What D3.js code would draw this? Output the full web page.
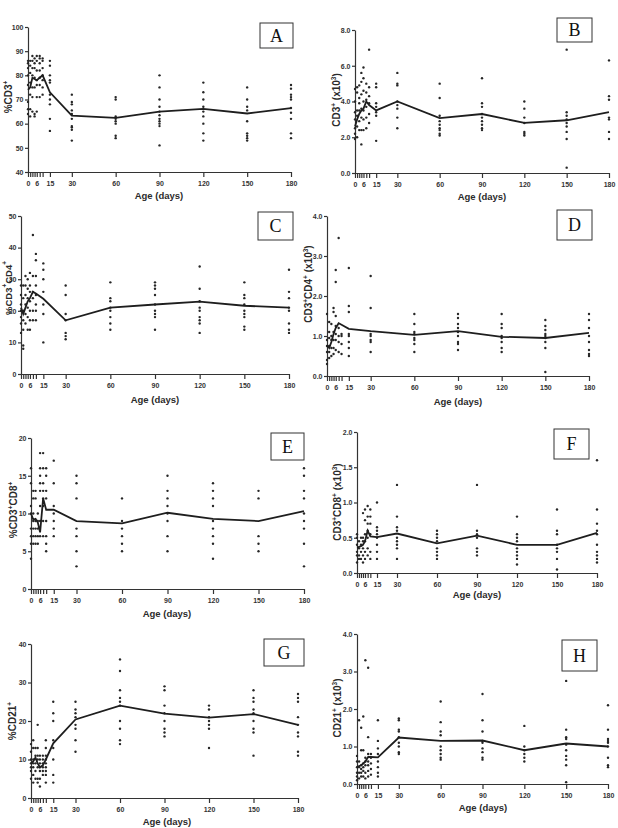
<!DOCTYPE html>
<html>
<head>
<meta charset="utf-8">
<title>Lymphocyte subsets by age</title>
<script src="https://d3js.org/d3.v7.min.js"></script>
<style>
  body { margin: 0; background: #fff; }
  svg text { font-family: "Liberation Sans", Arial, sans-serif; font-weight: bold; fill: #2b2b2b; }
  .axis path, .axis line { stroke: #333; stroke-width: 1.2; }
  .axis text { font-size: 7px; fill: #333; }
  .box text { font-family: "Liberation Serif", "Times New Roman", serif; font-weight: normal; fill: #111; }
</style>
</head>
<body>
<div id="chart"></div>
<script>
// sampling days (x), shared by every panel
var days = [0, 1.5, 3, 4.5, 6, 8, 10, 15, 30, 60, 90, 120, 150, 180];
var xLabels = [0, 6, 15, 30, 60, 90, 120, 150, 180];

// A: %CD3+
var meanA = [74, 75, 79, 78.5, 78, 79, 80, 73, 63.3, 62.4, 65, 66.1, 64.2, 66.4];
var dotsA = [
  [64, 66, 69, 76, 80, 83, 85, 86], [63, 66, 72, 77, 81, 84, 86], [65, 71, 75, 80, 83, 86, 88],
  [63, 64, 75, 79, 83, 85, 87], [65, 71, 76, 78, 82, 86, 88], [71, 76, 79, 82, 85, 87, 88],
  [72, 75, 78, 80, 83, 86, 87], [57, 62, 68, 70, 72, 77, 78, 80, 84, 86],
  [53, 57.5, 58.5, 59, 62, 64, 65.5, 68, 69, 72], [54, 55, 60, 61, 62, 63, 70, 71],
  [51, 59, 60, 61, 62, 63.5, 65, 67, 70, 75, 80], [53, 56, 60, 63, 65, 67, 70, 73, 77],
  [53, 54, 55, 56, 61, 65.5, 67, 70, 75], [54, 56, 62, 64.5, 66.5, 70, 71, 72, 74.5, 76]
];
var ticksA = [40, 50, 60, 70, 80, 90, 100];

// B: CD3+ (x10^3)
var meanB = [2.6, 3.0, 3.3, 3.5, 3.6, 4.0, 3.8, 3.5, 4.0, 3.07, 3.3, 2.8, 2.95, 3.4];
var dotsB = [
  [1.9, 2.2, 2.5, 3.0, 3.4, 4.0, 4.7], [2.0, 2.6, 3.2, 3.5, 4.5, 4.8], [2.4, 2.9, 3.5, 3.9, 4.2, 4.9],
  [1.6, 2.4, 3.1, 3.6, 4.4, 5.1, 5.6], [2.4, 3.0, 3.5, 4.0, 4.6, 5.3, 5.9], [2.5, 3.1, 3.7, 4.1, 4.5, 5.0],
  [2.8, 3.3, 3.9, 4.3, 4.8, 6.9], [1.8, 3.2, 3.4, 3.7, 3.9, 4.8, 5.0],
  [2.5, 3.1, 3.6, 3.8, 4.0, 4.9, 5.0, 5.6], [2.1, 2.2, 2.4, 2.5, 2.7, 2.9, 3.2, 4.2, 5.0],
  [2.4, 2.5, 2.7, 2.9, 3.1, 3.3, 3.7, 3.9, 5.3], [2.1, 2.2, 2.3, 2.8, 3.1, 3.6, 4.0],
  [0.3, 1.9, 2.3, 2.6, 2.8, 3.0, 3.2, 3.4, 6.9], [1.9, 2.3, 3.0, 3.1, 4.1, 4.3, 6.3]
];
var ticksB = [0, 2, 4, 6, 8];

// C: %CD3+CD4+
var meanC = [21, 19, 21, 23, 24, 26, 25.5, 23.8, 17, 21, 22, 22.9, 21.6, 21];
var dotsC = [
  [13, 16, 18, 20, 22, 25, 28], [8, 9, 14, 17, 20, 24, 28], [16, 19, 22, 25, 28, 31],
  [14, 18, 21, 24, 27, 30], [14, 17, 20, 23, 26, 28, 32], [17, 20, 24, 26, 31, 44],
  [17, 20, 22, 25, 28, 31, 36, 38], [10, 19, 22, 26, 30, 33, 35],
  [11, 12, 13, 17, 19, 25, 28], [14, 16, 18, 20, 21, 23, 24, 29],
  [14, 18, 19, 20, 22, 25, 27, 28, 29], [13, 16, 17, 18, 20, 21, 23, 27, 34],
  [14, 15, 18, 19, 20, 22, 24, 25, 29], [13, 14, 16, 20, 21, 24, 26, 33]
];
var ticksC = [0, 10, 20, 30, 40, 50];

// D: CD3+CD4+ (x10^3)
var meanD = [0.77, 0.7, 0.85, 1.05, 1.2, 1.32, 1.28, 1.18, 1.12, 1.03, 1.12, 0.98, 0.95, 1.08];
var dotsD = [
  [0.3, 0.4, 0.6, 0.75, 0.9, 1.55], [0.45, 0.6, 0.75, 0.95, 1.1, 1.35], [0.5, 0.7, 0.9, 1.0, 1.3],
  [0.55, 0.7, 0.9, 1.1, 1.6, 1.7], [0.65, 0.9, 1.05, 1.25, 1.5, 2.35, 2.65], [0.6, 0.85, 1.0, 1.2, 3.45],
  [0.55, 0.8, 1.0, 1.05], [0.5, 0.7, 0.85, 1.0, 1.05, 1.6, 1.75, 2.7],
  [0.6, 0.85, 0.9, 1.0, 1.05, 1.7, 2.5], [0.6, 0.8, 0.9, 0.95, 1.05, 1.1, 1.3, 1.55],
  [0.65, 0.8, 0.85, 1.0, 1.1, 1.2, 1.3, 1.45, 1.55], [0.6, 0.7, 0.85, 0.95, 1.0, 1.2, 1.3, 1.55],
  [0.1, 0.7, 0.85, 0.95, 1.0, 1.05, 1.15, 1.25, 1.4], [0.5, 0.55, 0.65, 0.85, 1.0, 1.2, 1.4, 1.55]
];
var ticksD = [0, 1, 2, 3, 4];

// E: %CD3+CD8+
var meanE = [10, 9.2, 9.3, 8.8, 7.5, 12, 10.5, 10.5, 9, 8.7, 10.1, 9.3, 9, 10.3];
var dotsE = [
  [4, 6, 7, 8, 10, 11, 14, 16], [6, 7, 8, 9, 10, 12, 13], [6, 7, 8, 9, 12, 13],
  [6, 7, 8, 9, 10], [7, 9, 11, 13, 14, 15, 16, 18], [7, 9, 11, 12, 13, 14, 16, 18],
  [5, 6, 7, 9, 12, 13, 15, 16], [7, 8, 9, 10, 11, 14, 17],
  [3, 5, 7, 8, 12, 14, 15], [5, 6, 7, 8, 9, 12],
  [5, 7, 9, 10, 11, 12, 13, 15], [4, 6, 7, 8, 9, 11, 12, 13, 14],
  [5, 6, 7, 12, 13], [3, 6, 8, 9, 10, 12, 13, 15, 16]
];
var ticksE = [0, 5, 10, 15, 20];

// F: CD3+CD8+ (x10^3)
var meanF = [0.36, 0.37, 0.38, 0.4, 0.45, 0.6, 0.52, 0.51, 0.56, 0.42, 0.53, 0.4, 0.4, 0.57];
var dotsF = [
  [0.15, 0.25, 0.3, 0.4, 0.5, 0.55], [0.2, 0.25, 0.35, 0.45], [0.2, 0.3, 0.4, 0.5],
  [0.15, 0.25, 0.35, 0.45, 0.5, 0.85], [0.2, 0.3, 0.45, 0.55, 0.75, 0.9], [0.25, 0.35, 0.5, 0.6, 0.7, 0.8, 0.95],
  [0.2, 0.3, 0.55, 0.7, 0.8, 0.9], [0.2, 0.3, 0.4, 0.5, 0.55, 0.6, 0.65, 1.0],
  [0.2, 0.35, 0.4, 0.45, 0.5, 0.6, 0.65, 0.8, 1.25], [0.2, 0.25, 0.3, 0.35, 0.45, 0.5, 0.55, 0.6],
  [0.25, 0.3, 0.35, 0.5, 0.55, 0.6, 1.25], [0.12, 0.2, 0.25, 0.3, 0.35, 0.45, 0.5, 0.55, 0.8],
  [0.05, 0.2, 0.3, 0.35, 0.4, 0.55, 0.6, 0.9], [0.15, 0.2, 0.25, 0.3, 0.4, 0.55, 0.6, 0.7, 0.9, 1.6]
];
var ticksF = [0, 0.5, 1, 1.5, 2];

// G: %CD21+
var meanG = [9, 9.5, 10.5, 9, 8, 8.5, 10, 14.2, 20.4, 24, 21.9, 20.9, 21.8, 19];
var dotsG = [
  [5, 7, 8, 9, 10, 12, 14], [4, 6, 8, 9, 10, 13, 15], [5, 7, 9, 11, 13],
  [4, 5, 8, 10, 11, 13, 19], [3, 5, 7, 8, 9, 10, 11], [6, 7, 8, 9, 10, 11],
  [4, 6, 7, 8, 9, 10, 11, 13, 15], [4, 6, 10, 13, 15, 20, 22, 25],
  [12, 15, 18, 19, 21, 22, 23, 25], [14, 15, 18, 20, 24, 25, 26, 28, 33, 36],
  [16, 17, 18, 20, 22, 24, 28, 29], [13, 18, 19, 20, 21, 23, 24],
  [11, 17, 18, 20, 22, 23, 25, 26, 28], [11, 12, 16, 17, 19, 21, 25, 26, 27]
];
var ticksG = [0, 10, 20, 30, 40];

// H: CD21+ (x10^3)
var meanH = [0.46, 0.48, 0.5, 0.55, 0.6, 0.72, 0.72, 0.71, 1.24, 1.15, 1.16, 0.9, 1.08, 1.0];
var dotsH = [
  [0.1, 0.2, 0.3, 0.45, 0.6, 0.75], [0.15, 0.3, 0.45, 0.6, 1.7], [0.2, 0.3, 0.4, 0.5, 0.9, 1.5],
  [0.2, 0.35, 0.45, 0.55, 0.9, 1.8], [0.15, 0.3, 0.5, 0.6, 0.7, 3.3], [0.2, 0.35, 0.5, 0.6, 0.8, 1.25, 3.1],
  [0.25, 0.4, 0.55, 0.7, 0.8], [0.2, 0.3, 0.45, 0.6, 0.8, 0.95, 1.15, 1.7],
  [0.8, 0.85, 1.0, 1.1, 1.25, 1.4, 1.45, 1.7, 1.75], [0.65, 0.7, 0.8, 0.9, 1.0, 1.3, 1.4, 1.65, 2.2],
  [0.65, 0.7, 0.85, 0.95, 1.1, 1.15, 1.4, 1.7, 2.4], [0.6, 0.7, 0.8, 0.9, 1.0, 1.55],
  [0.05, 0.5, 0.65, 0.75, 0.9, 1.05, 1.2, 1.25, 1.45, 2.75], [0.45, 0.5, 0.7, 1.0, 1.1, 1.15, 1.2, 1.45, 2.1]
];
var ticksH = [0, 1, 2, 3, 4];

// y labels: [text, superscript?]
var labA = [["%CD3"], ["+", 1]];
var labB = [["CD3"], ["+", 1], [" (x10"], ["3", 1], [")"]];
var labC = [["%CD3"], ["+", 1], ["CD4"], ["+", 1]];
var labD = [["CD3"], ["+", 1], ["CD4"], ["+", 1], [" (x10"], ["3", 1], [")"]];
var labE = [["%CD3"], ["+", 1], ["CD8"], ["+", 1]];
var labF = [["CD3"], ["+", 1], ["CD8"], ["+", 1], [" (x10"], ["3", 1], [")"]];
var labG = [["%CD21"], ["+", 1]];
var labH = [["CD21"], ["+", 1], [" (x10"], ["3", 1], [")"]];

var fInt = d3.format("d"), f1 = d3.format(".1f");

// panel placement, in page pixels
var panels = [
  {id: "A", mean: meanA, dots: dotsA, ticks: ticksA, fmt: fInt, lab: labA,
   x0: 28, x1: 291, yT: 27, yB: 172, lx: 9, ly: 97, ax: 159, ay: 199, box: [260, 23, 33, 25]},
  {id: "B", mean: meanB, dots: dotsB, ticks: ticksB, fmt: f1, lab: labB,
   x0: 355, x1: 609, yT: 30, yB: 173, lx: 337, ly: 100, ax: 482, ay: 200, box: [557, 18, 35, 24]},
  {id: "C", mean: meanC, dots: dotsC, ticks: ticksC, fmt: fInt, lab: labC, fs: 9.5,
   x0: 21, x1: 289, yT: 216, yB: 374, lx: 8.5, ly: 288, ax: 155, ay: 403, box: [258, 212, 35, 28]},
  {id: "D", mean: meanD, dots: dotsD, ticks: ticksD, fmt: f1, lab: labD,
   x0: 327, x1: 589, yT: 216, yB: 376, lx: 309, ly: 284, ax: 458, ay: 405, box: [557, 210, 35, 30]},
  {id: "E", mean: meanE, dots: dotsE, ticks: ticksE, fmt: fInt, lab: labE,
   x0: 31, x1: 304, yT: 438, yB: 589, lx: 14, ly: 510, ax: 167, ay: 617, box: [271, 433, 33, 27]},
  {id: "F", mean: meanF, dots: dotsF, ticks: ticksF, fmt: f1, lab: labF,
   x0: 357, x1: 597, yT: 432, yB: 573, lx: 338, ly: 502, ax: 477, ay: 598, box: [554, 429, 35, 30]},
  {id: "G", mean: meanG, dots: dotsG, ticks: ticksG, fmt: fInt, lab: labG,
   x0: 31, x1: 298, yT: 644, yB: 798, lx: 13, ly: 721, ax: 167, ay: 825, box: [264, 639, 40, 27]},
  {id: "H", mean: meanH, dots: dotsH, ticks: ticksH, fmt: f1, lab: labH,
   x0: 357, x1: 608, yT: 634, yB: 784, lx: 338, ly: 708, ax: 483, ay: 811, box: [562, 640, 35, 31]}
];

var svg = d3.select("#chart").append("svg")
  .attr("width", 618).attr("height", 828);

panels.forEach(function(p) {
  var g = svg.append("g");
  var x = d3.scaleLinear().domain([0, 180]).range([p.x0, p.x1]);
  var y = d3.scaleLinear().domain(d3.extent(p.ticks)).range([p.yB, p.yT]);

  g.append("g").attr("class", "axis")
    .attr("transform", "translate(0," + p.yB + ")")
    .call(d3.axisBottom(x).tickValues(days).tickSize(5).tickSizeOuter(0).tickPadding(4)
      .tickFormat(function(d) { return xLabels.indexOf(d) >= 0 ? d : ""; }));

  g.append("g").attr("class", "axis")
    .attr("transform", "translate(" + p.x0 + ",0)")
    .call(d3.axisLeft(y).tickValues(p.ticks).tickSize(3).tickSizeOuter(0).tickPadding(1.5)
      .tickFormat(p.fmt));

  // dots
  var pts = [];
  p.dots.forEach(function(col, i) {
    col.forEach(function(v) { pts.push({d: days[i], v: v}); });
  });
  g.selectAll("circle").data(pts).enter().append("circle")
    .attr("cx", function(d) { return x(d.d); })
    .attr("cy", function(d) { return y(d.v); })
    .attr("r", 1.2)
    .attr("fill", "#262626");

  // mean line
  var line = d3.line()
    .x(function(d, i) { return x(days[i]); })
    .y(function(d) { return y(d); });
  g.append("path").datum(p.mean)
    .attr("d", line)
    .attr("fill", "none")
    .attr("stroke", "#1e1e1e")
    .attr("stroke-width", 1.8);

  // x title
  g.append("text")
    .attr("x", p.ax).attr("y", p.ay)
    .attr("text-anchor", "middle")
    .attr("font-size", 9.5)
    .text("Age (days)");

  // y title
  var t = g.append("text")
    .attr("transform", "translate(" + p.lx + "," + p.ly + ") rotate(-90)")
    .attr("text-anchor", "middle")
    .attr("dominant-baseline", "middle")
    .attr("font-size", p.fs || 10);
  var up = false;
  p.lab.forEach(function(s) {
    var sup = !!s[1];
    var ts = t.append("tspan").text(s[0]);
    if (sup) { ts.attr("font-size", 6.5).attr("dy", up ? 0 : -3.5); up = true; }
    else { ts.attr("dy", up ? 3.5 : 0); up = false; }
  });

  // letter box
  var b = g.append("g").attr("class", "box");
  b.append("rect")
    .attr("x", p.box[0]).attr("y", p.box[1])
    .attr("width", p.box[2]).attr("height", p.box[3])
    .attr("fill", "#fff").attr("stroke", "#333").attr("stroke-width", 1);
  b.append("text")
    .attr("x", p.box[0] + p.box[2] / 2).attr("y", p.box[1] + p.box[3] / 2 + 6)
    .attr("text-anchor", "middle")
    .attr("font-size", 18)
    .text(p.id);
});
</script>
</body>
</html>
